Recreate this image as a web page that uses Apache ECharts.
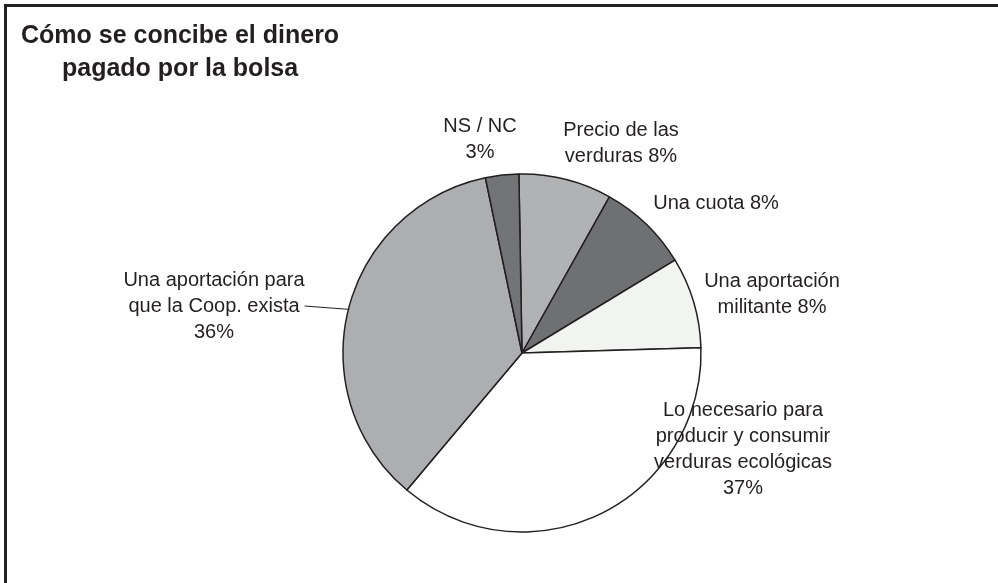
<!DOCTYPE html>
<html>
<head>
<meta charset="utf-8">
<script src="https://cdn.jsdelivr.net/npm/echarts@6/dist/echarts.min.js"></script>
<style>
  html, body { margin: 0; padding: 0; background: #fff; }
  #main { width: 998px; height: 583px; }
</style>
</head>
<body>
<div id="main"></div>
<script>
// datos
var nombres = ['Precio de las\nverduras', 'Una cuota', 'Una aportación\nmilitante',
  'Lo necesario para\nproducir y consumir\nverduras ecológicas',
  'Una aportación para\nque la Coop. exista', 'NS / NC'];
var valores = [8.4, 8.2, 8.2, 36.6, 35.6, 3.0];

// estilo
var colores = ['#b1b2b4', '#6f7072', '#f2f4f2', '#ffffff', '#adaeb0', '#737476'];
var separador = [' ', ' ', ' ', '\n', '\n', '\n'];
var conLinea = [false, false, false, false, true, false];
var posEtiqueta = [[621, 143], [716, 203], [772, 294], [743, 449], [214, 306], [480, 139]];

var chart = echarts.init(document.getElementById('main'), null, { renderer: 'canvas' });

var datos = [];
for (var i = 0; i < valores.length; i++) {
  datos.push({
    name: nombres[i],
    value: valores[i],
    itemStyle: { color: colores[i] },
    labelLine: { show: conLinea[i], length: 0, length2: 0 }
  });
}

var fuenteTitulo = { fontSize: 25, fontWeight: 'bold', color: '#231f20', fontFamily: 'Liberation Sans, Arial' };

var option = {
  backgroundColor: '#fff',
  animation: false,
  title: [
    { text: 'Cómo se concibe el dinero', left: 21, top: 24, padding: 0, textStyle: fuenteTitulo },
    { text: 'pagado por la bolsa', left: 62, top: 57, padding: 0, textStyle: fuenteTitulo }
  ],
  graphic: [
    {
      type: 'polyline',
      shape: { points: [[5.5, 583], [5.5, 5.5], [998, 5.5]] },
      style: { stroke: '#231f20', lineWidth: 3, fill: null }
    }
  ],
  series: [
    {
      type: 'pie',
      center: [522, 353],
      radius: 179,
      startAngle: 91,
      clockwise: true,
      percentPrecision: 0,
      avoidLabelOverlap: false,
      itemStyle: { borderColor: '#231f20', borderWidth: 1.5 },
      label: {
        show: true,
        position: 'outside',
        fontSize: 20,
        lineHeight: 26,
        color: '#231f20',
        fontFamily: 'Liberation Sans, Arial',
        formatter: function (p) {
          return p.name + separador[p.dataIndex] + p.percent + '%';
        }
      },
      labelLine: {
        lineStyle: { color: '#231f20', width: 1 }
      },
      labelLayout: function (params) {
        var p = posEtiqueta[params.dataIndex];
        return { x: p[0], y: p[1], align: 'center', verticalAlign: 'middle' };
      },
      emphasis: { disabled: true },
      data: datos
    }
  ]
};
chart.setOption(option);
</script>
</body>
</html>
